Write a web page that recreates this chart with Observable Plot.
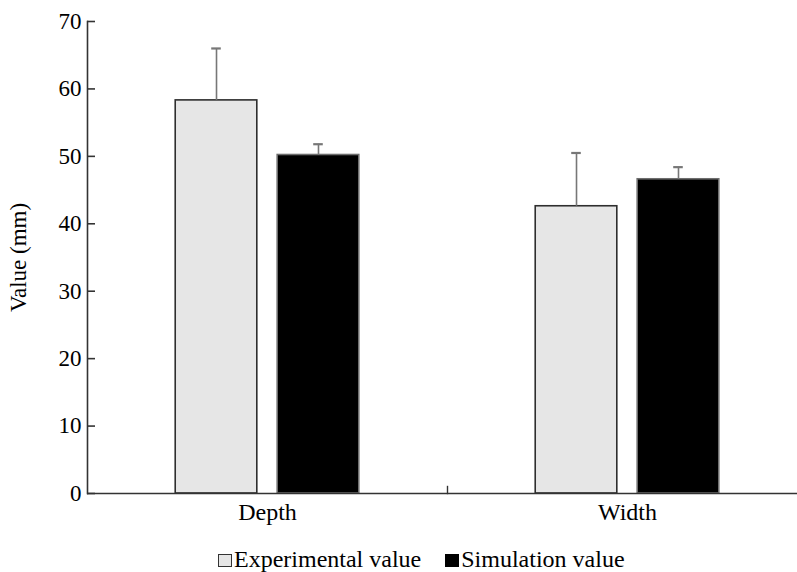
<!DOCTYPE html>
<html><head><meta charset="utf-8">
<script src="https://cdn.jsdelivr.net/npm/d3@7"></script>
<script src="https://cdn.jsdelivr.net/npm/@observablehq/plot@0.6"></script>
<style>
body{margin:0;background:#fff;font-family:"Liberation Serif","DejaVu Serif",serif;}
#wrap{width:797px;height:572px;overflow:hidden;position:relative;}
#chart svg{max-width:none !important;}
#legend{position:absolute;left:218px;top:547px;font-size:24px;color:#000;white-space:nowrap;line-height:24px;}
#legend .sw{display:inline-block;width:12px;height:11px;border:1.5px solid #333;vertical-align:0px;margin-right:2px;}
#legend .item{display:inline-block;}
#legend .item + .item{margin-left:24px;}
</style></head><body>
<div id="wrap"><div id="chart"></div><div id="legend"></div></div>
<script>
const categories = ["Depth", "Width"];
const series = ["Experimental value", "Simulation value"];
const experimental = [58.3, 42.6];
const experimentalErr = [7.7, 7.9];
const simulation = [50.2, 46.6];
const simulationErr = [1.6, 1.8];
const yTicks = [0, 10, 20, 30, 40, 50, 60, 70];

const fills = {"Experimental value": "#e6e6e6", "Simulation value": "#000000"};
const strokes = {"Experimental value": "#2e2e2e", "Simulation value": "#6e6e6e"};

const rows = [];
categories.forEach((c, i) => {
  rows.push({category: c, series: series[0], value: experimental[i], err: experimentalErr[i]});
  rows.push({category: c, series: series[1], value: simulation[i], err: simulationErr[i]});
});

const FONT = "'Liberation Serif','DejaVu Serif',serif";
const chart = Plot.plot({
  width: 807,
  height: 530,
  marginLeft: 87,
  marginRight: 0,
  marginTop: 21,
  marginBottom: 37,
  style: {fontFamily: FONT, fontSize: "23px", color: "#000", background: "#fff", maxWidth: "none"},
  fx: {domain: categories, padding: 0, axis: null},
  x: {domain: series, paddingInner: 0.2, paddingOuter: 0.865, round: false, axis: null},
  y: {domain: [0, 70], axis: null},
  marks: [
    Plot.barY(rows, {fx: "category", x: "series", y: "value",
      fill: d => fills[d.series], stroke: d => strokes[d.series], strokeWidth: 1.6}),
    Plot.ruleX(rows, {fx: "category", x: "series", y1: "value", y2: d => d.value + d.err,
      stroke: "#777", strokeWidth: 1.6}),
    Plot.tickY(rows, {fx: "category", x: "series", y: d => d.value + d.err,
      stroke: "#777", strokeWidth: 2.2, insetLeft: 36, insetRight: 36}),
    Plot.ruleY([0], {stroke: "#333", strokeWidth: 1.6}),
    Plot.frame({anchor: "left", facetAnchor: "left", stroke: "#333", strokeWidth: 1.6}),
    Plot.frame({anchor: "left", facetAnchor: "right", stroke: "#333", strokeWidth: 1.4, insetTop: 465}),
    Plot.axisY({ticks: yTicks, tickSize: 0, tickPadding: 6, fontSize: 23,
      label: "Value (mm)", labelAnchor: "center", labelArrow: "none", labelOffset: 78}),
    Plot.axisY({ticks: yTicks, tickSize: -8, text: null, stroke: "#333", strokeWidth: 1.6, label: null}),
    Plot.axisFx({anchor: "bottom", tickSize: 0, tickPadding: 9, fontSize: 24, label: null})
  ]
});
document.getElementById("chart").appendChild(chart);

const legend = document.getElementById("legend");
series.forEach(s => {
  const item = document.createElement("span");
  item.className = "item";
  const sw = document.createElement("span");
  sw.className = "sw";
  sw.style.background = fills[s];
  sw.style.borderColor = s === series[0] ? "#333" : "#000";
  item.appendChild(sw);
  item.appendChild(document.createTextNode(s));
  legend.appendChild(item);
});
</script>
</body></html>
